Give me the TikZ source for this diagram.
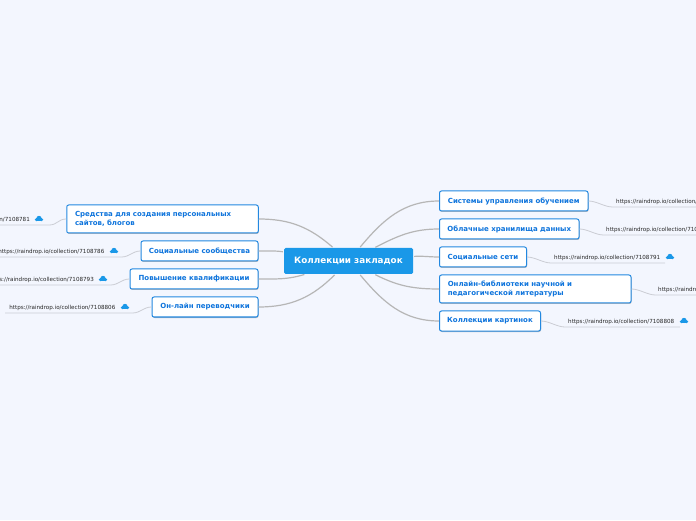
\documentclass[tikz,border=0pt]{standalone}
\usepackage{fontspec}
\setmainfont{DejaVu Sans}
\usetikzlibrary{shadows}
\definecolor{pagebg}{HTML}{F3F6FE}
\definecolor{rootblue}{HTML}{1A98E8}
\definecolor{topicblue}{HTML}{2288E0}
\definecolor{topictext}{HTML}{0E74DC}
\definecolor{branchgrey}{HTML}{B6B6B6}
\definecolor{linkgrey}{HTML}{CBCDD4}
\tikzset{
  rootbox/.style={fill=rootblue,rounded corners=1.5pt,text=white,font=\bfseries\fontsize{8.8}{10}\selectfont,
    minimum width=129pt,minimum height=26pt,inner sep=0pt},
  topicbox/.style={draw=topicblue,line width=1pt,fill=white,rounded corners=2pt,text=topictext,
    font=\bfseries\fontsize{7}{9.5}\selectfont,inner sep=0pt,minimum height=20pt,
    drop shadow={shadow xshift=0.5pt,shadow yshift=-1pt,opacity=0.35,fill=black!70}},
  linktext/.style={font=\fontsize{5.6}{6}\selectfont,text=black!85,inner sep=0pt},
  branch/.style={draw=branchgrey,line width=1.2pt,shorten <=1pt},
  linkline/.style={draw=linkgrey,line width=0.8pt},
  cloudicon/.pic={
    \fill[rootblue] (-2.6,-2.3) rectangle (2.6,0);
    \fill[rootblue] (-2.6,-0.6) circle (1.7);
    \fill[rootblue] (2.6,-0.6) circle (1.7);
    \fill[rootblue] (0,0.6) circle (2.6);
  }
}
\begin{document}
\begin{tikzpicture}[x=1pt,y=1pt]
  \useasboundingbox[fill=pagebg] (0,0) rectangle (696,520);
  % topics, centre first
  \node[rootbox] (root) at (348.5,259) {Коллекции закладок};
  \begin{scope}[every node/.append style={topicbox}]
    \node[minimum width=191.5pt,minimum height=28pt,align=left,text width=175pt] (tools) at (162.5,301) {Средства для создания персональных\\сайтов, блогов};
    \node[minimum width=117pt] (groups) at (199.5,269) {Социальные сообщества};
    \node[minimum width=128pt] (skills) at (194,241) {Повышение квалификации};
    \node[minimum width=106pt] (transl) at (205,213) {Он-лайн переводчики};
    \node[minimum width=148.5pt] (lms) at (513.75,319) {Системы управления обучением};
    \node[minimum width=139.5pt] (store) at (509.25,291) {Облачные хранилища данных};
    \node[minimum width=87pt] (social) at (483,263) {Социальные сети};
    \node[minimum width=191.5pt,minimum height=28pt,align=left,text width=175pt] (books) at (535.25,231) {Онлайн-библиотеки научной и\\педагогической литературы};
    \node[minimum width=101pt] (images) at (490,199) {Коллекции картинок};
  \end{scope}
  % links
  \node[linktext,anchor=east] (toolsurl) at (30,300.5) {https://raindrop.io/collection/7108781};
  \node[linktext,anchor=east] (groupsurl) at (104.5,268.5) {https://raindrop.io/collection/7108786};
  \node[linktext,anchor=east] (skillsurl) at (94,240.5) {https://raindrop.io/collection/7108793};
  \node[linktext,anchor=east] (translurl) at (115.5,212.5) {https://raindrop.io/collection/7108806};
  \node[linktext,anchor=west] (lmsurl) at (616,318.5) {https://raindrop.io/collection/7108783};
  \node[linktext,anchor=west] (storeurl) at (606,290.5) {https://raindrop.io/collection/7108784};
  \node[linktext,anchor=west] (socialurl) at (554,262.5) {https://raindrop.io/collection/7108791};
  \node[linktext,anchor=west] (booksurl) at (658,230.5) {https://raindrop.io/collection/7108799};
  \node[linktext,anchor=west] (imagesurl) at (568,198.5) {https://raindrop.io/collection/7108808};
  % cloud marks
  \pic at (39,301) {cloudicon};
  \pic at (114,269) {cloudicon};
  \pic at (103,241) {cloudicon};
  \pic at (125,213) {cloudicon};
  \pic at (670,263) {cloudicon};
  \pic at (684,199) {cloudicon};
  % free ends of the underlines
  \coordinate (toolsend) at (-2,295);
  \coordinate (groupsend) at (-2,263);
  \coordinate (skillsend) at (-2,235);
  \coordinate (translend) at (5,207);
  \coordinate (lmsend) at (698,313);
  \coordinate (storeend) at (698,285);
  \coordinate (socialend) at (665,257);
  \coordinate (booksend) at (698,225);
  \coordinate (imagesend) at (680,193);
  \path[linkline] (tools.west) .. controls +(-8,0) and +(8,0) .. ++(-17,-6) -- (toolsend);
  \path[linkline] (groups.west) .. controls +(-8,0) and +(8,0) .. ++(-19,-6) -- (groupsend);
  \path[linkline] (skills.west) .. controls +(-8,0) and +(8,0) .. ++(-19,-6) -- (skillsend);
  \path[linkline] (transl.west) .. controls +(-8,0) and +(8,0) .. ++(-19,-6) -- (translend);
  \path[linkline] (lms.east) .. controls +(8,0) and +(-8,0) .. ++(24,-6) -- (lmsend);
  \path[linkline] (store.east) .. controls +(8,0) and +(-8,0) .. ++(24,-6) -- (storeend);
  \path[linkline] (social.east) .. controls +(8,0) and +(-8,0) .. ++(24,-6) -- (socialend);
  \path[linkline] (books.east) .. controls +(8,0) and +(-8,0) .. ++(24,-6) -- (booksend);
  \path[linkline] (images.east) .. controls +(8,0) and +(-8,0) .. ++(24,-6) -- (imagesend);
  % branches
  \path[branch] (root) to[out=139,in=0] (tools.east);
  \path[branch] (root) to[out=172,in=0] (groups.east);
  \path[branch] (root) to[out=197,in=0] (skills.east);
  \path[branch] (root) to[out=225,in=0] (transl.east);
  \path[branch] (root) to[out=50,in=180] (lms.west);
  \path[branch] (root) to[out=27,in=180] (store.west);
  \path[branch] (root) to[out=4,in=180] (social.west);
  \path[branch] (root) to[out=-27,in=180] (books.west);
  \path[branch] (root) to[out=-50,in=180] (images.west);
\end{tikzpicture}
\end{document}
